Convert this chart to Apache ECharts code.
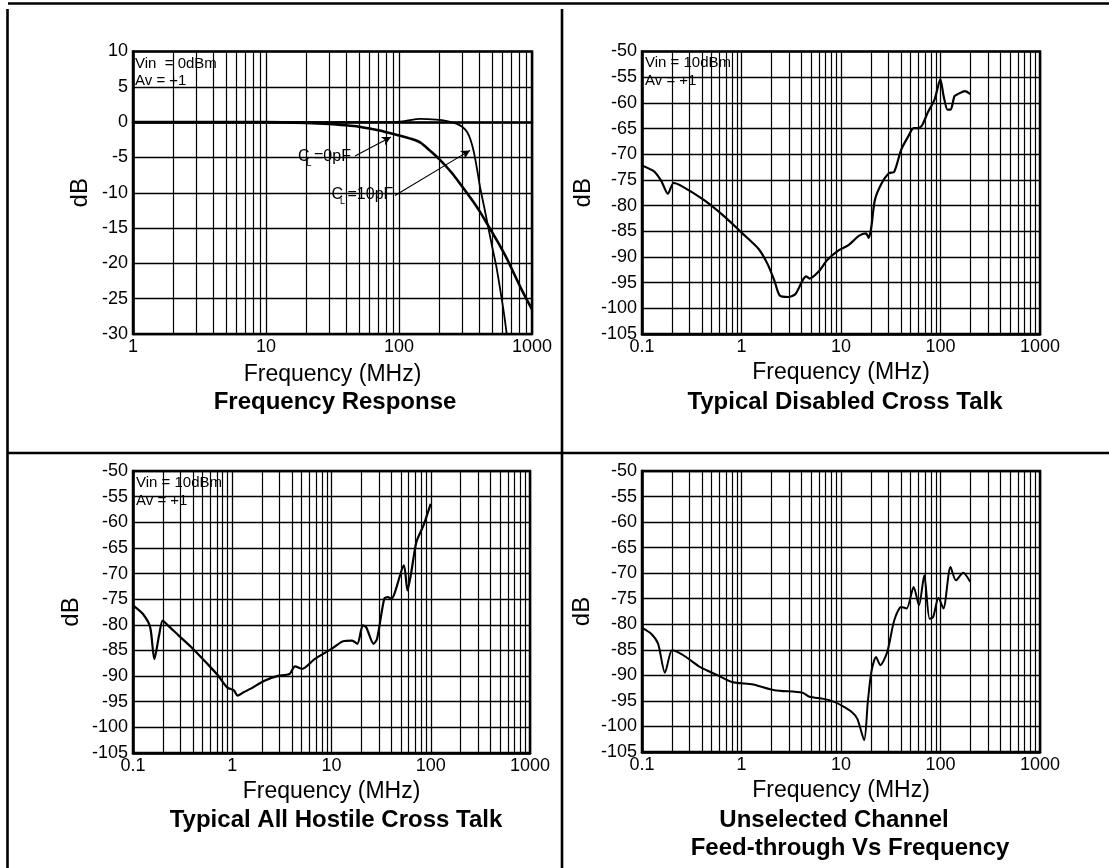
<!DOCTYPE html>
<html><head><meta charset="utf-8">
<script src="https://cdn.jsdelivr.net/npm/echarts@6/dist/echarts.min.js"></script>
<style>html,body{margin:0;padding:0;background:#fff}#c{width:1109px;height:868px}</style>
</head><body><div id="c"></div>
<script>
const FONT = '"Liberation Sans", Arial, Helvetica, sans-serif';

// ---- Plot 1: Frequency Response (MHz, dB)
const frFreqA = [1, 3, 10, 20, 30, 40, 50, 60, 70, 85, 100, 120, 145, 170, 200, 250, 290, 350, 400, 460, 550, 650, 730, 850, 1000];
const frDbA   = [0, 0, 0, -0.1, -0.25, -0.45, -0.65, -0.9, -1.15, -1.55, -1.9, -2.3, -2.9, -4.0, -5.2, -7.2, -8.8, -10.9, -12.5, -14.4, -16.9, -19.4, -21.4, -24.0, -26.5];
const frFreqB = [1, 10, 50, 90, 110, 144, 190, 230, 270, 300, 325, 345, 365, 385, 406, 440, 470, 500, 540, 580, 620, 660];
const frDbB   = [0, 0, 0, 0, 0.15, 0.45, 0.35, 0.15, -0.2, -0.7, -1.4, -2.5, -4.2, -6.5, -9.1, -12.3, -15.0, -17.5, -20.5, -24.0, -27.5, -31.5];

// ---- Plot 2: Typical Disabled Cross Talk
const dcFreq = [0.1, 0.133, 0.157, 0.182, 0.208, 0.256, 0.418, 0.68, 1.02, 1.48, 1.82, 2.14, 2.42, 2.96, 3.49, 4.1, 4.46, 4.83, 5.93, 7.27, 9.3, 11.9, 15.1, 17.8, 19.0, 20.2, 21.9, 25.7, 30.3, 34.3, 40.3, 47.5, 53.7, 60.3, 66, 74.4, 87.4, 99.6, 107.6, 117.5, 126.5, 138, 149, 176, 199];
const dcDb   = [-72.2, -73.4, -75.3, -77.7, -75.6, -76.3, -78.9, -82.2, -85.4, -88.4, -91.3, -94.6, -97.5, -97.8, -97.2, -94.6, -93.8, -94.2, -92.9, -90.6, -88.8, -87.7, -85.9, -85.4, -86.3, -84.1, -78.9, -75.6, -73.7, -73.4, -69.1, -66.5, -64.9, -64.9, -64.2, -61.9, -59.3, -55.4, -58.7, -61.3, -61.3, -58.7, -58.3, -57.7, -58.3];

// ---- Plot 3: Typical All Hostile Cross Talk
const ahFreq = [0.1, 0.126, 0.149, 0.164, 0.183, 0.199, 0.225, 0.289, 0.403, 0.561, 0.72, 0.885, 1.04, 1.13, 1.29, 1.52, 2.11, 2.83, 3.78, 4.28, 5.05, 6.74, 10.2, 13.1, 16.1, 18.2, 20.7, 22.4, 26.5, 28.8, 34, 36.9, 40.1, 53.6, 58.2, 63.2, 71.6, 84.5, 99.8];
const ahDb   = [-76.2, -77.9, -80.5, -86.7, -82.1, -79.2, -80.1, -82.1, -84.7, -87.6, -89.9, -92.2, -92.8, -93.8, -93.2, -92.5, -90.9, -90.0, -89.6, -88.1, -88.6, -86.7, -84.6, -83.2, -83.1, -83.7, -80.1, -80.5, -83.7, -82.7, -74.9, -74.6, -74.9, -68.4, -73.3, -70.1, -63.9, -60.6, -56.4];

// ---- Plot 4: Unselected Channel Feed-through Vs Frequency
const ftFreq = [0.1, 0.123, 0.145, 0.17, 0.2, 0.226, 0.277, 0.385, 0.578, 0.8, 1.31, 2.14, 4.1, 4.83, 6.7, 8.57, 10.1, 12.9, 14.6, 17.1, 18.6, 20.2, 22.5, 24.8, 29.2, 34.3, 40.3, 45.7, 53.7, 60.8, 68.7, 77.6, 84.3, 95.3, 107, 126, 143, 169, 199];
const ftDb   = [-80.7, -81.8, -83.8, -89.5, -85.1, -85.4, -86.4, -88.4, -90.0, -91.3, -91.8, -92.9, -93.4, -94.2, -94.6, -95.2, -95.9, -97.2, -98.5, -102.7, -95.2, -89.3, -86.4, -88.0, -85.4, -79.2, -76.6, -76.9, -72.7, -76.3, -70.4, -78.9, -78.6, -74.8, -76.9, -68.8, -71.4, -69.9, -71.7];

// ---- log grid (minor) lines
const minorGrid1 = [2,3,4,5,6,7,8,9,20,30,40,50,60,70,80,90,200,300,400,500,600,700,800,900];
const minorGrid2 = [0.2,0.3,0.4,0.5,0.6,0.7,0.8,0.9,2,3,4,5,6,7,8,9,20,30,40,50,60,70,80,90,200,300,400,500,600,700,800,900];

// ---- axis ranges / labels
const xRange1 = [1, 1000];
const xRange2 = [0.1, 1000];
const yRange1 = [-30, 10];
const yRange2 = [-105, -50];
const yStep = 5;
const xName = 'Frequency (MHz)';
const yName = 'dB';
const titles = ['Frequency Response', 'Typical Disabled Cross Talk', 'Typical All Hostile Cross Talk', 'Unselected Channel', 'Feed-through Vs Frequency'];

const zip = (a, b) => a.map((v, i) => [v, b[i]]);

const grids = [
  {left: 133, top: 51.5, width: 399, height: 282.5},
  {left: 642, top: 51.5, width: 398, height: 282.5},
  {left: 133, top: 471, width: 397, height: 282},
  {left: 642, top: 471, width: 398, height: 281}
].map(g => Object.assign(g, {show: true, borderColor: '#000', borderWidth: 2.5, backgroundColor: 'transparent', containLabel: false, outerBoundsMode: 'none'}));

const xRanges = [xRange1, xRange2, xRange2, xRange2];
const yRanges = [yRange1, yRange2, yRange2, yRange2];
const xNameGaps = [29, 27, 27, 27];
const yNameGaps = [41, 47, 50, 48];

const xAxes = xRanges.map((r, i) => ({
  gridIndex: i, type: 'log', logBase: 10, min: r[0], max: r[1],
  axisLine: {show: true, lineStyle: {color: '#000', width: 2.5}},
  axisTick: {show: false},
  splitLine: {show: true, lineStyle: {color: '#000', width: 1.3}},
  axisLabel: {color: '#000', fontSize: 18, fontFamily: FONT, margin: 4,
    formatter: v => String(+(+v).toPrecision(6))},
  name: xName, nameLocation: 'middle', nameGap: xNameGaps[i],
  nameTextStyle: {color: '#000', fontSize: 23, fontFamily: FONT}
}));

const yAxes = yRanges.map((r, i) => ({
  gridIndex: i, type: 'value', min: r[0], max: r[1], interval: yStep,
  axisLine: {show: true, lineStyle: {color: '#000', width: 2.5}},
  axisTick: {show: false},
  splitLine: {show: true, lineStyle: {color: '#000', width: 1.3}},
  axisLabel: {color: '#000', fontSize: 18, fontFamily: FONT, margin: 5},
  name: yName, nameLocation: 'middle', nameGap: yNameGaps[i], nameRotate: 90,
  nameTextStyle: {color: '#000', fontSize: 24, fontFamily: FONT}
}));

const minorML = vals => ({
  silent: true, symbol: ['none', 'none'], animation: false,
  label: {show: false},
  lineStyle: {color: '#000', width: 1.2, type: 'solid'},
  emphasis: {disabled: true},
  data: vals.map(v => ({xAxis: v}))
});

const lineSeries = (i, data, width, extra) => Object.assign({
  type: 'line', xAxisIndex: i, yAxisIndex: i, data: data,
  showSymbol: false, symbol: 'none', animation: false, silent: true,
  lineStyle: {color: '#000', width: width}, z: 3
}, extra || {});

const series = [
  lineSeries(0, zip(frFreqA, frDbA), 2.6, {smooth: 0.3, markLine: minorML(minorGrid1)}),
  lineSeries(0, zip(frFreqB, frDbB), 1.8, {smooth: 0.3, markLine: {
    silent: true, animation: false, symbol: ['none', 'arrow'], symbolSize: [7, 9],
    label: {show: false}, lineStyle: {color: '#000', width: 1.1, type: 'solid'},
    data: [
      [{coord: [46.7, -4.8]}, {coord: [87, -2.1]}],
      [{coord: [93.3, -10.4]}, {coord: [342, -4.0]}]
    ]}}),
  lineSeries(1, zip(dcFreq, dcDb), 2.2, {smooth: 0.25, markLine: minorML(minorGrid2)}),
  lineSeries(2, zip(ahFreq, ahDb), 2.2, {smooth: 0.25, markLine: minorML(minorGrid2)}),
  lineSeries(3, zip(ftFreq, ftDb), 2.0, {smooth: 0.25, markLine: minorML(minorGrid2)})
];

const txt = (x, y, text, size, opts) => ({
  type: 'text', x: x, y: y, silent: true, z: 10,
  style: Object.assign({text: text, fontSize: size, fontFamily: FONT, fill: '#000',
    align: 'left', verticalAlign: 'middle'}, opts || {})
});
const ln = (x1, y1, x2, y2) => ({type: 'line', silent: true, z: 10,
  shape: {x1, y1, x2, y2}, style: {stroke: '#000', lineWidth: 2.6}});

const graphic = [
  ln(8, 3.5, 1109, 3.5), ln(7.5, 9, 7.5, 868), ln(562, 9, 562, 868), ln(7, 453, 1109, 453),
  txt(135, 63.5, 'Vin  = 0dBm', 15), txt(135, 80.5, 'Av = +1', 15),
  txt(645, 62.5, 'Vin = 10dBm', 15), txt(645, 81, 'Av = +1', 15),
  txt(136, 483, 'Vin = 10dBm', 15), txt(136, 501, 'Av = +1', 15),
  txt(298, 156.5, 'C =0pF', 16), txt(306.5, 163.5, 'L', 9),
  txt(331.5, 195, 'C =10pF', 16), txt(340, 202, 'L', 9),
  txt(335, 402, titles[0], 24, {align: 'center', fontWeight: 'bold'}),
  txt(845, 402, titles[1], 24, {align: 'center', fontWeight: 'bold'}),
  txt(336, 820, titles[2], 24, {align: 'center', fontWeight: 'bold'}),
  txt(834, 820, titles[3], 24, {align: 'center', fontWeight: 'bold'}),
  txt(850, 848, titles[4], 24, {align: 'center', fontWeight: 'bold'})
];

const chart = echarts.init(document.getElementById('c'), null, {renderer: 'canvas'});
chart.setOption({
  backgroundColor: '#fff', animation: false,
  grid: grids, xAxis: xAxes, yAxis: yAxes, series: series, graphic: graphic
});
</script></body></html>
